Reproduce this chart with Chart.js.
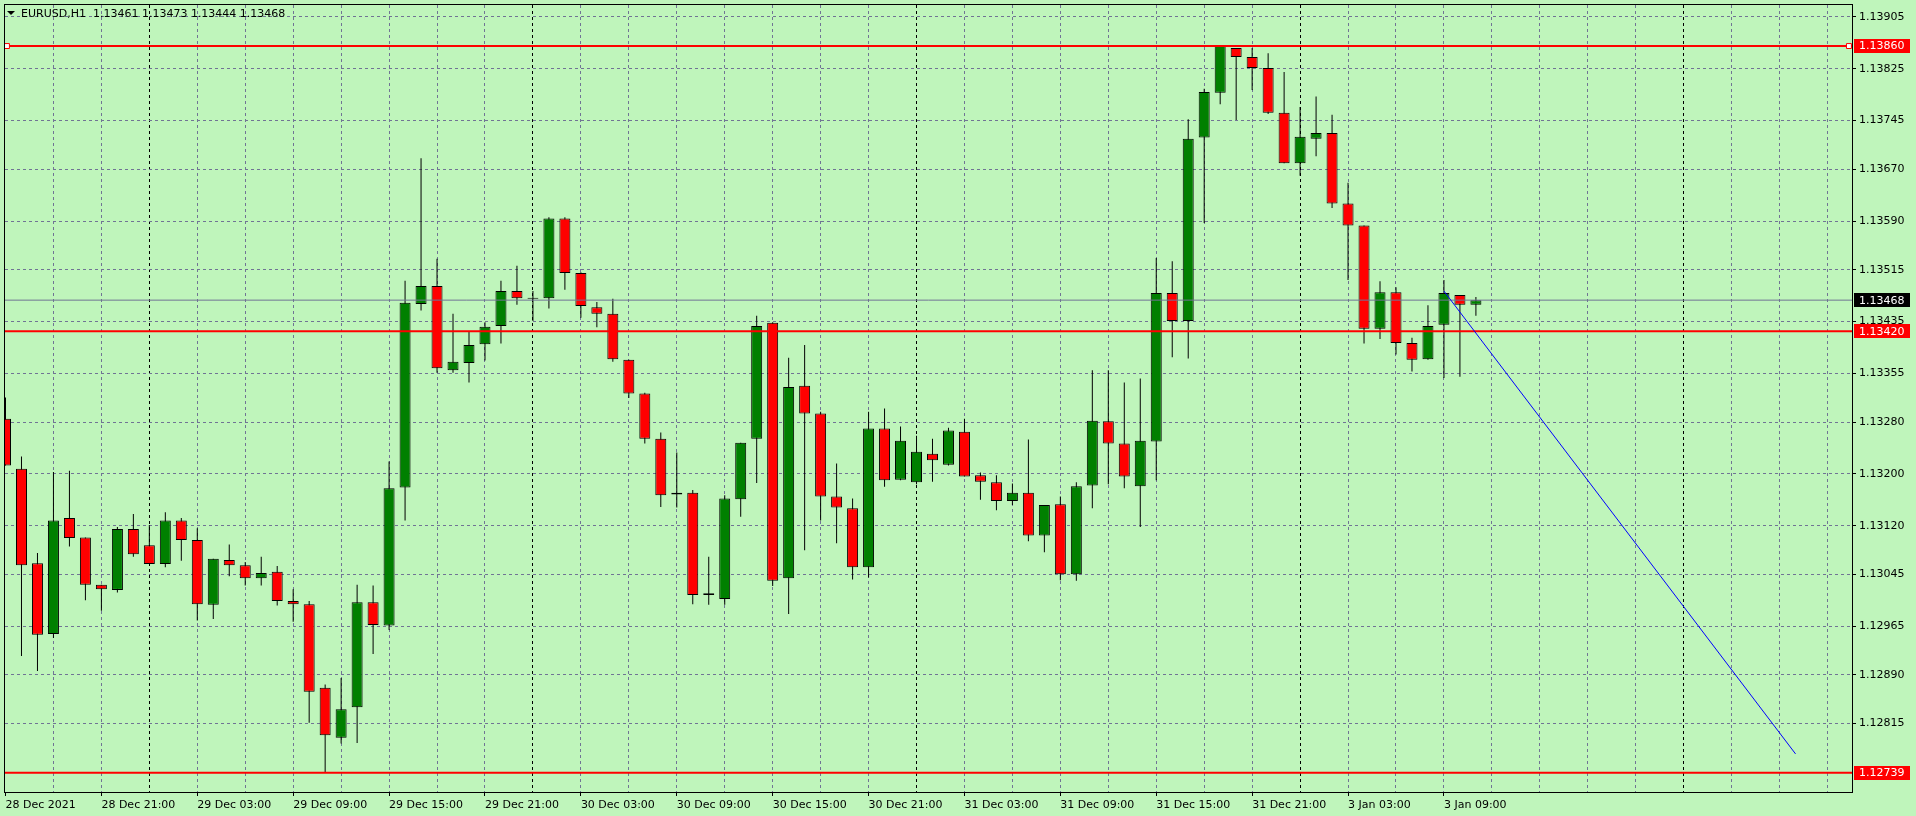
<!DOCTYPE html>
<html>
<head>
<meta charset="utf-8">
<script src="https://cdn.jsdelivr.net/npm/chart.js@4/dist/chart.umd.min.js"></script>
<style>
html,body{margin:0;padding:0;background:#bff5bb;overflow:hidden}
canvas{display:block}
</style>
</head>
<body>
<canvas id="c" width="1916" height="816"></canvas>
<script>
// ---------------- DATA ----------------
const symbolTitle = "EURUSD,H1  1.13461 1.13473 1.13444 1.13468";

const opens = [
1.13285,1.13208,1.13062,1.12953,1.13132,1.13102,1.13029,1.13021,1.13115,1.13090,
1.13061,1.13128,1.13098,1.12998,1.13067,1.13059,1.13039,1.13049,1.13004,1.12999,
1.12870,1.12793,1.12840,1.13002,1.12966,1.13179,1.13462,1.13490,1.13360,1.13371,
1.13400,1.13428,1.13482,1.13470,1.13471,1.13594,1.13510,1.13457,1.13447,1.13376,
1.13324,1.13254,1.13168,1.13171,1.13016,1.13007,1.13161,1.13254,1.13433,1.13039,
1.13336,1.13293,1.13165,1.13147,1.13056,1.13270,1.13191,1.13187,1.13231,1.13214,
1.13265,1.13198,1.13187,1.13158,1.13171,1.13105,1.13153,1.13045,1.13182,1.13281,
1.13247,1.13181,1.13250,1.13479,1.13436,1.13719,1.13788,1.13857,1.13843,1.13826,
1.13757,1.13679,1.13717,1.13726,1.13617,1.13583,1.13424,1.13480,1.13402,1.13377,
1.13430,1.13476,1.13461];
const highs = [
1.13318,1.13227,1.13078,1.13203,1.13205,1.13102,1.13029,1.13118,1.13138,1.13121,
1.13141,1.13132,1.13116,1.13069,1.13091,1.13064,1.13072,1.13058,1.13022,1.13004,
1.12875,1.12885,1.13029,1.13028,1.13219,1.13498,1.13687,1.13532,1.13447,1.13420,
1.13434,1.13498,1.13521,1.13482,1.13596,1.13596,1.13511,1.13465,1.13470,1.13376,
1.13325,1.13264,1.13233,1.13175,1.13072,1.13167,1.13248,1.13444,1.13434,1.13379,
1.13399,1.13296,1.13216,1.13162,1.13296,1.13301,1.13273,1.13259,1.13254,1.13271,
1.13285,1.13202,1.13198,1.13185,1.13253,1.13152,1.13165,1.13187,1.13360,1.13360,
1.13341,1.13347,1.13533,1.13528,1.13747,1.13794,1.13860,1.13857,1.13857,1.13849,
1.13820,1.13766,1.13782,1.13754,1.13649,1.13583,1.13497,1.13488,1.13410,1.13460,
1.13499,1.13476,1.13473];
const lows = [
1.13213,1.12919,1.12896,1.12947,1.13088,1.13005,1.12989,1.13017,1.13072,1.13061,
1.13056,1.13066,1.12974,1.12976,1.13042,1.13028,1.13028,1.12997,1.12972,1.12816,
1.12739,1.12784,1.12785,1.12922,1.12959,1.13128,1.13452,1.13356,1.13356,1.13341,
1.13375,1.13401,1.13461,1.13436,1.13455,1.13484,1.13441,1.13426,1.13373,1.13317,
1.13247,1.13149,1.13148,1.12999,1.12998,1.12998,1.13134,1.13186,1.13027,1.12984,
1.13082,1.13128,1.13093,1.13037,1.13040,1.13180,1.13190,1.13184,1.13188,1.13213,
1.13196,1.13160,1.13144,1.13152,1.13096,1.13079,1.13036,1.13035,1.13147,1.13184,
1.13178,1.13118,1.13190,1.13380,1.13378,1.13587,1.13770,1.13746,1.13792,1.13755,
1.13679,1.13660,1.13690,1.13610,1.13499,1.13401,1.13408,1.13384,1.13358,1.13376,
1.13348,1.13350,1.13444];
const closes = [
1.13213,1.13059,1.12952,1.13128,1.13101,1.13029,1.13022,1.13115,1.13076,1.13061,
1.13128,1.13098,1.12999,1.13069,1.13059,1.13039,1.13047,1.13004,1.12999,1.12864,
1.12797,1.12837,1.13002,1.12967,1.13178,1.13464,1.13490,1.13363,1.13373,1.13399,
1.13427,1.13482,1.13471,1.13470,1.13594,1.13510,1.13459,1.13447,1.13377,1.13324,
1.13254,1.13167,1.13171,1.13013,1.13013,1.13162,1.13248,1.13428,1.13035,1.13334,
1.13293,1.13165,1.13148,1.13056,1.13270,1.13190,1.13251,1.13234,1.13221,1.13267,
1.13196,1.13188,1.13158,1.13171,1.13105,1.13152,1.13045,1.13181,1.13282,1.13247,
1.13196,1.13251,1.13479,1.13436,1.13717,1.13789,1.13860,1.13843,1.13826,1.13757,
1.13679,1.13720,1.13726,1.13617,1.13583,1.13424,1.13480,1.13402,1.13376,1.13428,
1.13479,1.13461,1.13468];

const timeLabels = ["28 Dec 2021","28 Dec 21:00","29 Dec 03:00","29 Dec 09:00","29 Dec 15:00",
  "29 Dec 21:00","30 Dec 03:00","30 Dec 09:00","30 Dec 15:00","30 Dec 21:00",
  "31 Dec 03:00","31 Dec 09:00","31 Dec 15:00","31 Dec 21:00","3 Jan 03:00","3 Jan 09:00"];
const timeLabelAt = [0,6,12,18,24,30,36,42,48,54,60,66,72,78,84,90];
const daySeparators = [9,33,57,81,105];

const priceTicks = [1.13905,1.13825,1.13745,1.13670,1.13590,1.13515,1.13435,1.13355,
  1.13280,1.13200,1.13120,1.13045,1.12965,1.12890,1.12815];

const levelLines = [1.13860, 1.13420, 1.12739];
const bidPrice = 1.13468;
const trendStart = {x: 90, y: 1.13482};
const trendEnd = {x: 112, y: 1.12768};
const handleAt = [0.09, 115.34];

// ---------------- STYLE ----------------
const BG = '#bff5bb';
const GRID = '#707494';
const GREEN = '#008000';
const RED = '#ff0000';
const FONT = '"DejaVu Sans", sans-serif';
const X_MIN = -0.03125, X_MAX = 115.53125;
const Y_MIN = 1.1270927, Y_MAX = 1.1392329;

const idx = opens.map((_, i) => i);
const wickData = idx.map(i => ({x: i, y: [lows[i], highs[i]]}));
const bodyData = idx.map(i => ({x: i, y: [opens[i], closes[i]]}));
const bodyColors = idx.map(i => closes[i] >= opens[i] ? GREEN : RED);
const gridIdx = [];
for (let k = 0; k * 3 <= 115; k++) gridIdx.push(k * 3);

const overlay = {
  id: 'overlay',
  beforeDraw(chart) {
    const c = chart.ctx;
    c.save(); c.fillStyle = BG; c.fillRect(0, 0, chart.width, chart.height); c.restore();
  },
  afterDraw(chart) {
    const c = chart.ctx, a = chart.chartArea, y = chart.scales.y;
    c.save();
    c.strokeStyle = '#000'; c.lineWidth = 1; c.setLineDash([]);
    c.strokeRect(a.left - 0.5, a.top - 0.5, a.right - a.left + 1, a.bottom - a.top + 1);
    // title
    c.fillStyle = '#000';
    c.beginPath(); c.moveTo(7, 11); c.lineTo(15, 11); c.lineTo(11, 15); c.closePath(); c.fill();
    c.font = '11px ' + FONT; c.textBaseline = 'alphabetic'; c.textAlign = 'left';
    c.fillText(symbolTitle, 21, 17);
    // price tags
    const tags = [[levelLines[0], RED], [bidPrice, '#000'], [levelLines[1], RED], [levelLines[2], RED]];
    c.textBaseline = 'middle';
    tags.forEach(([v, col]) => {
      const py = y.getPixelForValue(v);
      c.fillStyle = col;
      c.fillRect(a.right + 2, Math.round(py) - 7, 56, 14);
      c.fillStyle = '#fff';
      c.fillText(v.toFixed(5), a.right + 7, py + 0.5);
    });
    c.restore();
  }
};

const flat = v => [{x: X_MIN, y: v}, {x: X_MAX, y: v}];

new Chart(document.getElementById('c'), {
  type: 'bar',
  data: {
    datasets: [
      {type: 'line', data: [trendStart, trendEnd], borderColor: '#0000ff', borderWidth: 1, pointRadius: 0, clip: 0, order: 0},
      {type: 'line', data: handleAt.map(x => ({x, y: levelLines[0]})), showLine: false, pointStyle: 'rect', pointRadius: 3.5,
        pointBorderColor: RED, pointBackgroundColor: '#ffffff', pointBorderWidth: 1, clip: 0, order: 0},
      ...levelLines.map(v => ({type: 'line', data: flat(v), borderColor: RED, borderWidth: 2, pointRadius: 0, clip: 0, order: 1})),
      {type: 'line', data: flat(bidPrice), borderColor: GRID, borderWidth: 1, pointRadius: 0, clip: 0, order: 2},
      {type: 'bar', data: bodyData, backgroundColor: bodyColors, borderColor: '#000', borderWidth: 1,
        borderSkipped: false, barThickness: 11, grouped: false, inflateAmount: 0, minBarLength: 1, clip: 0, order: 3},
      {type: 'bar', data: wickData, backgroundColor: '#000', borderWidth: 0,
        barThickness: 1, grouped: false, inflateAmount: 0, clip: 0, order: 4}
    ]
  },
  options: {
    responsive: false, animation: false, events: [],
    devicePixelRatio: 1,
    layout: {padding: {left: 3, top: 2, right: 0, bottom: 0}},
    plugins: {legend: {display: false}, tooltip: {enabled: false}, title: {display: false}},
    scales: {
      x: {
        type: 'linear', min: X_MIN, max: X_MAX, offset: false,
        afterBuildTicks: s => { s.ticks = gridIdx.map(v => ({value: v})); },
        afterFit: s => { s.height = 24; s.paddingLeft = 0; s.paddingRight = 0; s.paddingTop = 0; s.paddingBottom = 0; },
        ticks: {
          autoSkip: false, maxRotation: 0, minRotation: 0, align: 'start', padding: 3,
          color: '#000', font: {family: FONT, size: 11},
          callback: v => { const k = timeLabelAt.indexOf(v); return k >= 0 ? timeLabels[k] : ''; }
        },
        grid: {
          offset: false, lineWidth: 1, drawTicks: true, tickLength: 4, tickBorderDash: [],
          color: ctx => ctx.tick.value === 0 ? 'rgba(0,0,0,0)' : (daySeparators.includes(ctx.tick.value) ? '#000' : GRID),
          tickColor: ctx => timeLabelAt.includes(ctx.tick.value) ? '#000' : 'rgba(0,0,0,0)'
        },
        border: {display: false, dash: [3, 3]}
      },
      y: {
        type: 'linear', position: 'right', min: Y_MIN, max: Y_MAX, beginAtZero: false,
        afterBuildTicks: s => { s.ticks = priceTicks.slice().reverse().map(v => ({value: v})); },
        afterFit: s => { s.width = 64; s.paddingLeft = 0; s.paddingRight = 0; s.paddingTop = 0; s.paddingBottom = 0; },
        ticks: {
          autoSkip: false, padding: 3, crossAlign: 'near', color: '#000', font: {family: FONT, size: 11},
          callback: v => v.toFixed(5)
        },
        grid: {lineWidth: 1, drawTicks: true, tickLength: 4, tickColor: '#000', tickBorderDash: [], color: GRID},
        border: {display: false, dash: [3, 3]}
      }
    }
  },
  plugins: [overlay]
});
</script>
</body>
</html>
